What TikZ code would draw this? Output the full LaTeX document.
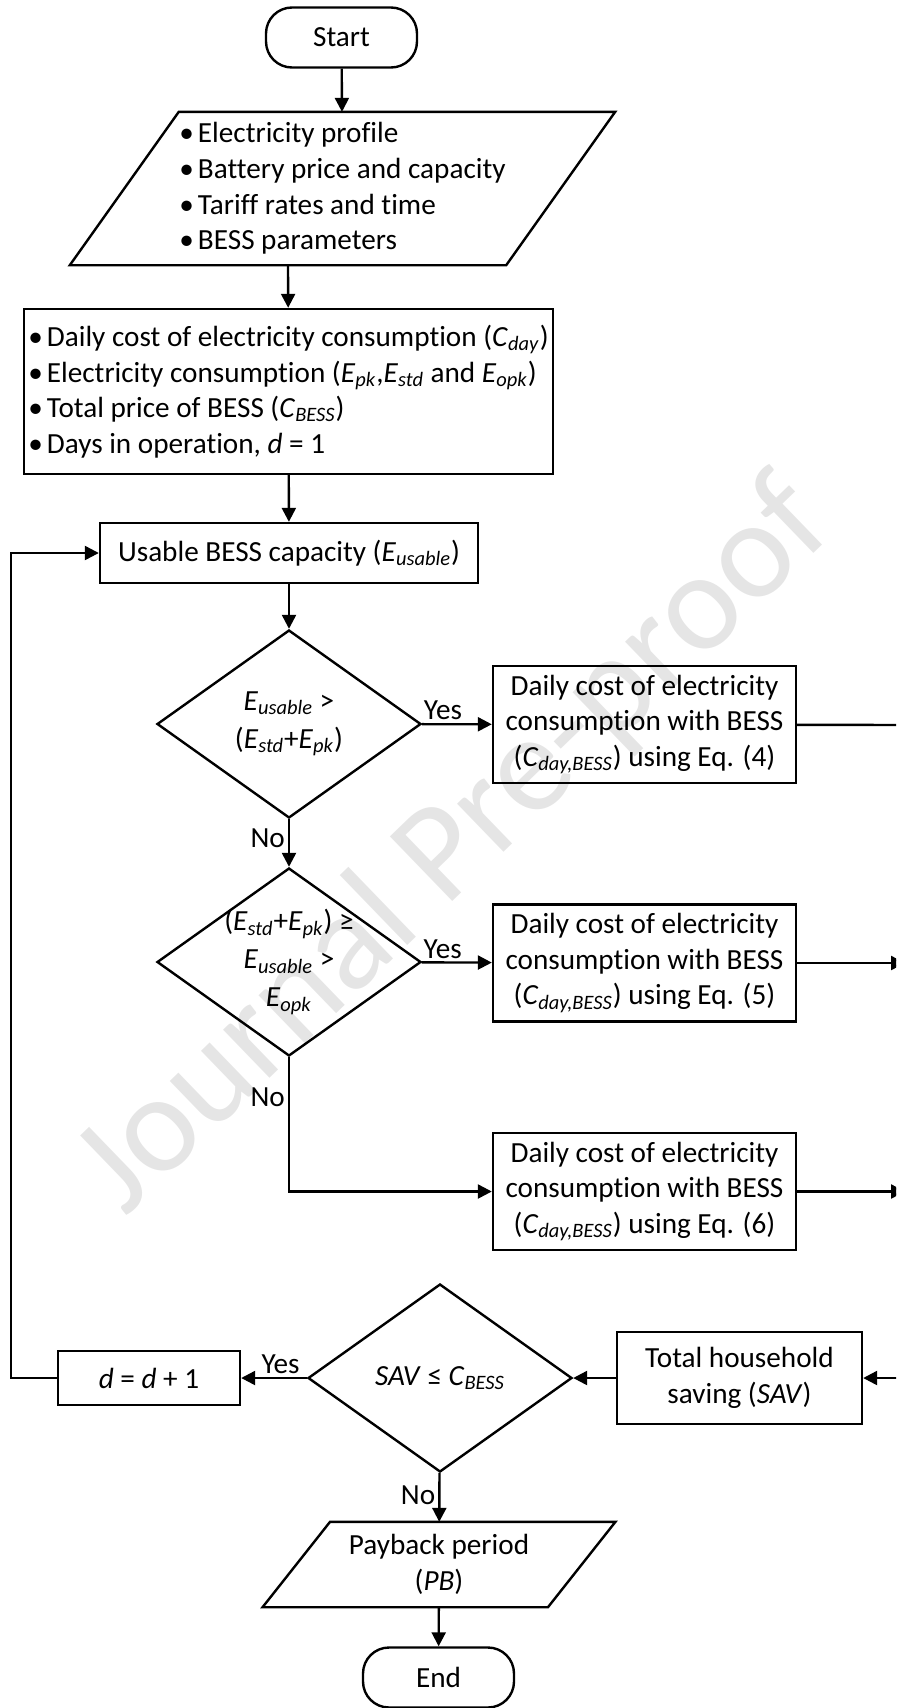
\documentclass[tikz,border=0pt]{standalone}
\usepackage{fontspec}
\setmainfont{Carlito}[Ligatures=NoCommon]
\usetikzlibrary{shapes.geometric,arrows.meta,calc}

\tikzset{
  base/.style={draw, line width=1.2pt, font=\fontsize{14.6pt}{17.8pt}\selectfont, align=center},
  startstop/.style={base, rectangle, rounded corners=13pt, minimum width=75.5pt, minimum height=30pt},
  process/.style={base, rectangle, inner sep=0pt},
  io/.style={base, draw=none, rectangle, inner sep=0pt},
  decision/.style={base, diamond, inner sep=-4pt, shape aspect=1.4, minimum width=132pt, minimum height=94pt,
    font=\fontsize{14.6pt}{19pt}\selectfont},
  flow/.style={line width=1.2pt, -{Triangle[length=7pt,width=7pt]}},
  tag/.style={font=\fontsize{14.6pt}{17.8pt}\selectfont, inner sep=1.5pt},
}
\newcommand{\vsub}[2]{\textit{#1}\textsubscript{\textit{#2}}}
\newcommand{\slantbox}[2]{\draw[line width=1.2pt] ($(#1.north west)+(#2,0)$) -- ($(#1.north east)+(#2,0)$)
  -- ($(#1.south east)-(#2,0)$) -- ($(#1.south west)-(#2,0)$) -- cycle;}

\begin{document}
\begin{tikzpicture}[x=0.5pt, y=-0.5pt]
  \path[use as bounding box, clip] (0,0) rectangle (896,1708);
  \node[text=black!10, rotate=44, font=\fontsize{70pt}{76pt}\selectfont] (wmark) at (455,848) {Journal Pre-proof};

  \node[startstop] (start) at (341.5,37.5) {Start};
  \node[io, minimum width=217pt, minimum height=75.5pt, align=left] (inp) at (342.5,188.5)
    {\textbullet\hspace{2pt}Electricity profile\\ \textbullet\hspace{2pt}Battery price and capacity\\ \textbullet\hspace{2pt}Tariff rates and time\\ \textbullet\hspace{2pt}BESS parameters};
  \slantbox{inp}{54.5}
  \node[process, minimum width=264.5pt, minimum height=82.5pt, align=left] (init) at (288.5,391.5)
    {\textbullet\hspace{2pt}Daily cost of electricity consumption (\vsub{C}{day})\\
     \textbullet\hspace{2pt}Electricity consumption (\vsub{E}{pk},\vsub{E}{std} and \vsub{E}{opk})\\
     \textbullet\hspace{2pt}Total price of BESS (\vsub{C}{BESS})\\
     \textbullet\hspace{2pt}Days in operation, \textit{d} = 1};
  \node[process, minimum width=189pt, minimum height=30pt] (cap) at (289,553) {Usable BESS capacity (\vsub{E}{usable})};

  \node[decision] (dec1) at (289,724) {\vsub{E}{usable} >\\(\vsub{E}{std}+\vsub{E}{pk})};
  \node[process, minimum width=151.5pt, minimum height=58.5pt] (cost4) at (644.5,724.5)
    {Daily cost of electricity\\consumption with BESS\\(\vsub{C}{day,BESS}) using Eq. (4)};
  \node[decision] (dec2) at (289,962) {(\vsub{E}{std}+\vsub{E}{pk}) ≥\\\vsub{E}{usable} >\\\vsub{E}{opk}};
  \node[process, minimum width=151.5pt, minimum height=58.5pt] (cost5) at (644.5,963)
    {Daily cost of electricity\\consumption with BESS\\(\vsub{C}{day,BESS}) using Eq. (5)};
  \node[process, minimum width=151.5pt, minimum height=58.5pt] (cost6) at (644.5,1191.5)
    {Daily cost of electricity\\consumption with BESS\\(\vsub{C}{day,BESS}) using Eq. (6)};

  \node[decision] (dec3) at (440,1378) {\textit{SAV} ≤ \vsub{C}{BESS}};
  \node[process, minimum width=122.5pt, minimum height=46pt] (sav) at (739.5,1378) {Total household\\saving (\textit{SAV})};
  \node[process, minimum width=91pt, minimum height=27pt] (incr) at (149,1378) {\textit{d} = \textit{d} + 1};
  \node[io, minimum width=141.5pt, minimum height=41.5pt] (pb) at (439,1564.5) {Payback period\\(\textit{PB})};
  \slantbox{pb}{33.75}
  \node[startstop] (stop) at (438.5,1677.5) {End};

  \coordinate (rail) at (905,725);
  \coordinate (loop) at (11,0);

  \draw[flow] (start) -- (inp);
  \draw[flow] ($(inp.south)-(54.5,0)$) -- (init);
  \draw[flow] (init) -- (cap);
  \draw[flow] (cap) -- (dec1);
  \draw[flow] (dec1) -- node[tag, above, pos=0.3] {Yes} (cost4);
  \draw[flow] (dec1) -- node[tag, left, pos=0.4] {No} (dec2);
  \draw[flow] (dec2) -- node[tag, above, pos=0.3] {Yes} (cost5);
  \draw[flow] (dec2.south) |- node[tag, left, pos=0.15] {No} (cost6.west);
  \draw[line width=1.2pt] (cost4) -- (rail) -- (rail |- sav);
  \draw[flow] (cost5) -- (cost5 -| rail);
  \draw[flow] (cost6) -- (cost6 -| rail);
  \draw[flow] (rail |- sav) -- (sav);
  \draw[flow] (sav) -- (dec3);
  \draw[flow] (dec3) -- node[tag, above, pos=0.4] {Yes} (incr);
  \draw[flow] (dec3) -- node[tag, left, pos=0.45] {No} (pb);
  \draw[flow] (pb) -- (stop);
  \draw[flow] (incr.west) -- (incr.west -| loop) |- (cap.west);
\end{tikzpicture}
\end{document}
